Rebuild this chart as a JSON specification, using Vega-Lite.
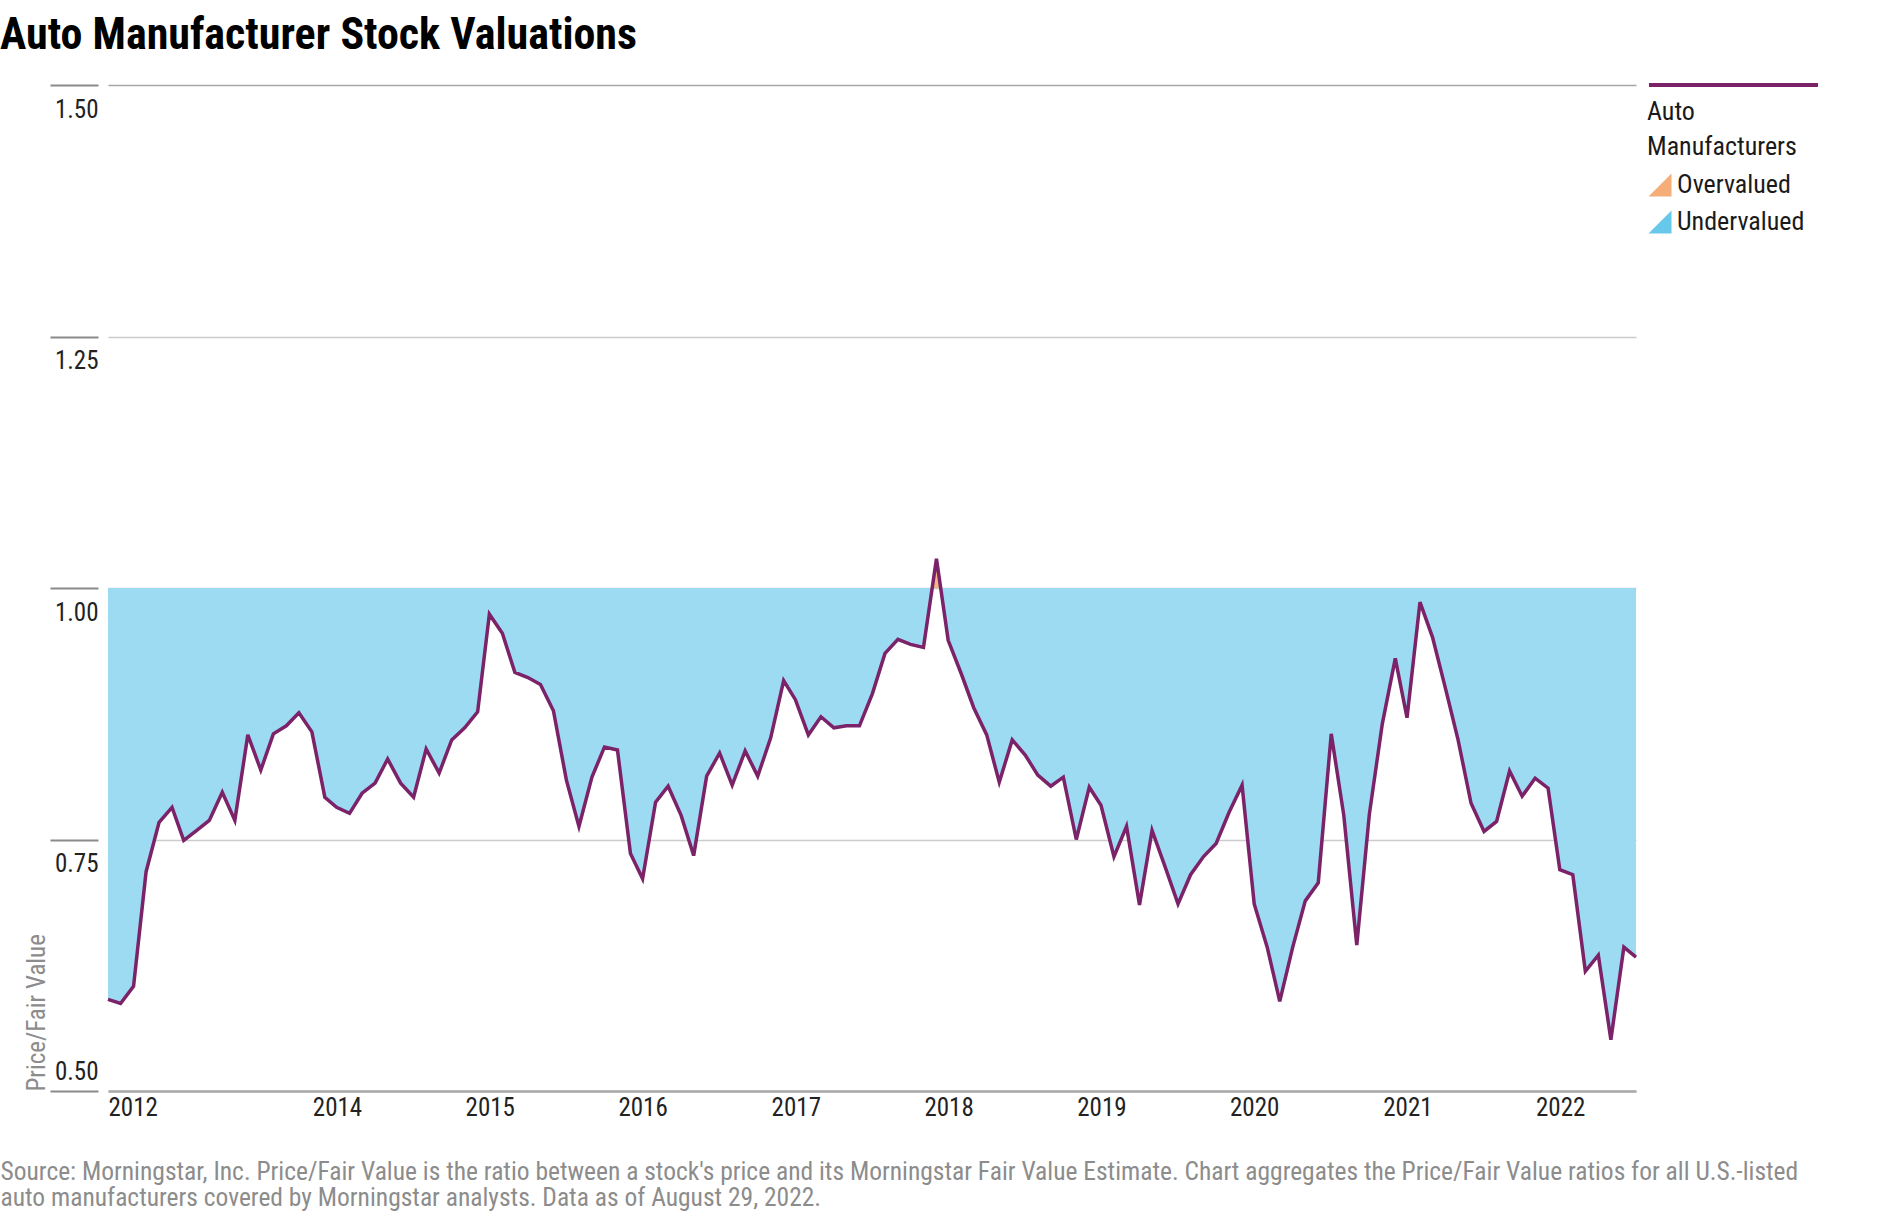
{
  "$schema": "https://vega.github.io/schema/vega-lite/v6.json",
  "width": 1528,
  "height": 1006,
  "autosize": {"type": "none"},
  "padding": {"left": 108, "top": 85, "right": 260, "bottom": 129},
  "background": "white",
  "title": {
    "text": "Auto Manufacturer Stock Valuations",
    "anchor": "start",
    "frame": "group",
    "dx": -108,
    "dy": 45,
    "baseline": "alphabetic",
    "offset": 36,
    "font": "Roboto Condensed, Liberation Sans Narrow, DejaVu Sans Condensed, sans-serif",
    "fontSize": 44,
    "fontWeight": "bold",
    "color": "#000000"
  },
  "config": {
    "view": {"stroke": null},
    "font": "Roboto Condensed, Liberation Sans Narrow, DejaVu Sans Condensed, sans-serif"
  },
  "data": {
    "values": [
      {"date": "2012-08-31", "value": 0.591},
      {"date": "2012-09-30", "value": 0.587},
      {"date": "2012-10-31", "value": 0.604},
      {"date": "2012-11-30", "value": 0.718},
      {"date": "2012-12-31", "value": 0.767},
      {"date": "2013-01-31", "value": 0.782},
      {"date": "2013-02-28", "value": 0.749},
      {"date": "2013-03-31", "value": 0.759},
      {"date": "2013-04-30", "value": 0.769},
      {"date": "2013-05-31", "value": 0.797},
      {"date": "2013-06-30", "value": 0.769},
      {"date": "2013-07-31", "value": 0.854},
      {"date": "2013-08-31", "value": 0.819},
      {"date": "2013-09-30", "value": 0.855},
      {"date": "2013-10-31", "value": 0.863},
      {"date": "2013-11-30", "value": 0.876},
      {"date": "2013-12-31", "value": 0.857},
      {"date": "2014-01-31", "value": 0.792},
      {"date": "2014-02-28", "value": 0.782},
      {"date": "2014-03-31", "value": 0.776},
      {"date": "2014-04-30", "value": 0.796},
      {"date": "2014-05-31", "value": 0.806},
      {"date": "2014-06-30", "value": 0.830},
      {"date": "2014-07-31", "value": 0.806},
      {"date": "2014-08-31", "value": 0.792},
      {"date": "2014-09-30", "value": 0.840},
      {"date": "2014-10-31", "value": 0.816},
      {"date": "2014-11-30", "value": 0.849},
      {"date": "2014-12-31", "value": 0.861},
      {"date": "2015-01-31", "value": 0.877},
      {"date": "2015-02-28", "value": 0.974},
      {"date": "2015-03-31", "value": 0.955},
      {"date": "2015-04-30", "value": 0.916},
      {"date": "2015-05-31", "value": 0.911},
      {"date": "2015-06-30", "value": 0.904},
      {"date": "2015-07-31", "value": 0.878},
      {"date": "2015-08-31", "value": 0.809},
      {"date": "2015-09-30", "value": 0.763},
      {"date": "2015-10-31", "value": 0.812},
      {"date": "2015-11-30", "value": 0.842},
      {"date": "2015-12-31", "value": 0.839},
      {"date": "2016-01-31", "value": 0.736},
      {"date": "2016-02-29", "value": 0.711},
      {"date": "2016-03-31", "value": 0.787},
      {"date": "2016-04-30", "value": 0.803},
      {"date": "2016-05-31", "value": 0.774},
      {"date": "2016-06-30", "value": 0.734},
      {"date": "2016-07-31", "value": 0.813},
      {"date": "2016-08-31", "value": 0.836},
      {"date": "2016-09-30", "value": 0.804},
      {"date": "2016-10-31", "value": 0.838},
      {"date": "2016-11-30", "value": 0.813},
      {"date": "2016-12-31", "value": 0.851},
      {"date": "2017-01-31", "value": 0.908},
      {"date": "2017-02-28", "value": 0.889},
      {"date": "2017-03-31", "value": 0.854},
      {"date": "2017-04-30", "value": 0.872},
      {"date": "2017-05-31", "value": 0.861},
      {"date": "2017-06-30", "value": 0.863},
      {"date": "2017-07-31", "value": 0.863},
      {"date": "2017-08-31", "value": 0.895},
      {"date": "2017-09-30", "value": 0.935},
      {"date": "2017-10-31", "value": 0.949},
      {"date": "2017-11-30", "value": 0.944},
      {"date": "2017-12-31", "value": 0.941},
      {"date": "2018-01-31", "value": 1.029},
      {"date": "2018-02-28", "value": 0.948},
      {"date": "2018-03-31", "value": 0.915},
      {"date": "2018-04-30", "value": 0.881},
      {"date": "2018-05-31", "value": 0.854},
      {"date": "2018-06-30", "value": 0.807},
      {"date": "2018-07-31", "value": 0.849},
      {"date": "2018-08-31", "value": 0.834},
      {"date": "2018-09-30", "value": 0.814},
      {"date": "2018-10-31", "value": 0.803},
      {"date": "2018-11-30", "value": 0.812},
      {"date": "2018-12-31", "value": 0.750},
      {"date": "2019-01-31", "value": 0.802},
      {"date": "2019-02-28", "value": 0.784},
      {"date": "2019-03-31", "value": 0.733},
      {"date": "2019-04-30", "value": 0.763},
      {"date": "2019-05-31", "value": 0.685},
      {"date": "2019-06-30", "value": 0.759},
      {"date": "2019-07-31", "value": 0.723},
      {"date": "2019-08-31", "value": 0.686},
      {"date": "2019-09-30", "value": 0.715},
      {"date": "2019-10-31", "value": 0.733},
      {"date": "2019-11-30", "value": 0.746},
      {"date": "2019-12-31", "value": 0.777},
      {"date": "2020-01-31", "value": 0.804},
      {"date": "2020-02-29", "value": 0.686},
      {"date": "2020-03-31", "value": 0.643},
      {"date": "2020-04-30", "value": 0.589},
      {"date": "2020-05-31", "value": 0.643},
      {"date": "2020-06-30", "value": 0.689},
      {"date": "2020-07-31", "value": 0.707},
      {"date": "2020-08-31", "value": 0.855},
      {"date": "2020-09-30", "value": 0.774},
      {"date": "2020-10-31", "value": 0.645},
      {"date": "2020-11-30", "value": 0.775},
      {"date": "2020-12-31", "value": 0.865},
      {"date": "2021-01-31", "value": 0.930},
      {"date": "2021-02-28", "value": 0.871},
      {"date": "2021-03-31", "value": 0.986},
      {"date": "2021-04-30", "value": 0.951},
      {"date": "2021-05-31", "value": 0.900},
      {"date": "2021-06-30", "value": 0.849},
      {"date": "2021-07-31", "value": 0.786},
      {"date": "2021-08-31", "value": 0.758},
      {"date": "2021-09-30", "value": 0.768},
      {"date": "2021-10-31", "value": 0.818},
      {"date": "2021-11-30", "value": 0.793},
      {"date": "2021-12-31", "value": 0.811},
      {"date": "2022-01-31", "value": 0.801},
      {"date": "2022-02-28", "value": 0.720},
      {"date": "2022-03-31", "value": 0.715},
      {"date": "2022-04-30", "value": 0.619},
      {"date": "2022-05-31", "value": 0.635},
      {"date": "2022-06-30", "value": 0.551},
      {"date": "2022-07-31", "value": 0.643},
      {"date": "2022-08-29", "value": 0.633}
    ]
  },
  "encoding": {
    "x": {
      "field": "date",
      "type": "temporal",
      "scale": {"type": "utc"},
      "axis": {
        "values": [
          {"year": 2012, "month": 8, "date": 31, "utc": true},
          {"year": 2014, "month": 1, "date": 1, "utc": true},
          {"year": 2015, "month": 1, "date": 1, "utc": true},
          {"year": 2016, "month": 1, "date": 1, "utc": true},
          {"year": 2017, "month": 1, "date": 1, "utc": true},
          {"year": 2018, "month": 1, "date": 1, "utc": true},
          {"year": 2019, "month": 1, "date": 1, "utc": true},
          {"year": 2020, "month": 1, "date": 1, "utc": true},
          {"year": 2021, "month": 1, "date": 1, "utc": true},
          {"year": 2022, "month": 1, "date": 1, "utc": true}
        ],
        "format": "%Y",
        "grid": false,
        "ticks": false,
        "domain": true,
        "domainColor": "#a8a8a8",
        "domainWidth": 2.5,
        "labelAlign": "left",
        "labelBaseline": "top",
        "labelPadding": 4,
        "labelFlush": false,
        "labelOverlap": false,
        "labelFontSize": 25,
        "labelColor": "#222222",
        "title": [
          "Source: Morningstar, Inc. Price/Fair Value is the ratio between a stock's price and its Morningstar Fair Value Estimate. Chart aggregates the Price/Fair Value ratios for all U.S.-listed",
          "auto manufacturers covered by Morningstar analysts. Data as of August 29, 2022."
        ],
        "titleX": -108,
        "titleY": 88,
        "titleAlign": "left",
        "titleAnchor": "start",
        "titleBaseline": "alphabetic",
        "titleFontSize": 25.5,
        "titleFontWeight": "normal",
        "titleColor": "#8c8c8c",
        "titleLineHeight": 26.5,
        "titleLimit": 1900
      }
    },
    "y": {
      "field": "value",
      "type": "quantitative",
      "scale": {"domain": [0.5, 1.5], "nice": false, "zero": false},
      "axis": {
        "values": [0.5, 0.75, 1, 1.25, 1.5],
        "format": ".2f",
        "grid": true,
        "gridColor": {"condition": {"test": "datum.value == 1.5", "value": "#a6a6a6"}, "value": "#cccccc"},
        "gridWidth": 1.5,
        "domain": false,
        "ticks": true,
        "tickSize": 48,
        "tickColor": "#8a8a8a",
        "tickWidth": 2,
        "offset": 10,
        "labelPadding": -48,
        "labelAlign": "right",
        "labelBaseline": "alphabetic",
        "labelOffset": {"condition": {"test": "datum.value == 0.5", "value": -12}, "value": 32},
        "labelFontSize": 25,
        "labelColor": "#222222",
        "title": "Price/Fair Value",
        "titleAnchor": "start",
        "titleFontSize": 25,
        "titleFontWeight": "normal",
        "titleColor": "#8c8c8c",
        "titlePadding": 0
      }
    }
  },
  "layer": [
    {
      "mark": {
        "type": "area",
        "fill": {
          "gradient": "linear",
          "x1": 0, "y1": 0, "x2": 0, "y2": 1,
          "stops": [
            {"offset": 0, "color": "#f3b886"},
            {"offset": 0.0611, "color": "#f3b886"},
            {"offset": 0.0611, "color": "#9ddbf2"},
            {"offset": 1, "color": "#9ddbf2"}
          ]
        }
      },
      "encoding": {
        "y2": {"datum": 1}
      }
    },
    {
      "mark": {"type": "line", "strokeWidth": 3.5},
      "encoding": {
        "stroke": {
          "datum": "Auto Manufacturers",
          "type": "nominal",
          "scale": {"range": ["#7b2268"]},
          "legend": {
            "orient": "right",
            "offset": 11,
            "padding": 0,
            "symbolType": "M -1 -5 L 337 -5",
            "symbolSize": 1,
            "symbolStrokeWidth": 4,
            "labelExpr": "''",
            "labelFontSize": 1,
            "title": ["Auto", "Manufacturers"],
            "titleOrient": "bottom",
            "titleAnchor": "start",
            "titleAlign": "left",
            "titleFontSize": 26,
            "titleFontWeight": "normal",
            "titleColor": "#1a1a1a",
            "titleLineHeight": 35,
            "titlePadding": 5.5,
            "titleLimit": 300
          }
        }
      }
    },
    {
      "data": {"values": [{"status": "Overvalued"}, {"status": "Undervalued"}]},
      "transform": [{"filter": "false"}],
      "mark": {"type": "rect"},
      "encoding": {
        "x": null,
        "y": null,
        "fill": {
          "field": "status",
          "type": "nominal",
          "scale": {"domain": ["Overvalued", "Undervalued"], "range": ["#f5ae78", "#66c9ec"]},
          "legend": {
            "orient": "right",
            "offset": 11,
            "padding": 4,
            "title": null,
            "symbolType": "M -1 1 L 1 1 L 1 -1 Z",
            "symbolSize": 529,
            "symbolStrokeWidth": 0,
            "symbolOffset": -4,
            "labelOffset": 4,
            "labelFontSize": 26,
            "labelColor": "#1a1a1a",
            "rowPadding": 11
          }
        }
      }
    }
  ]
}
